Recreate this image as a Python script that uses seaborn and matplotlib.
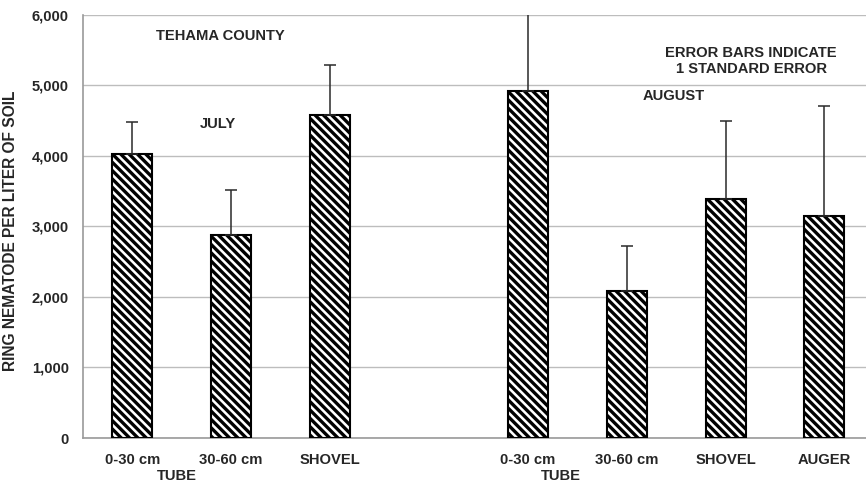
#!/usr/bin/env python3
"""
Ring nematode counts by sampling method - Tehama County
"""

import matplotlib
matplotlib.use('Agg')
import matplotlib.pyplot as plt
import seaborn as sns
import numpy as np
import pandas as pd

# data (one empty slot separates July and August)
slots = ['jul_0_30', 'jul_30_60', 'jul_shovel', 'gap',
         'aug_0_30', 'aug_30_60', 'aug_shovel', 'aug_auger']
tick_labels = ['0-30 cm', '30-60 cm', 'SHOVEL', '',
               '0-30 cm', '30-60 cm', 'SHOVEL', 'AUGER']
means = [4020, 2880, 4580, np.nan, 4920, 2090, 3380, 3150]
std_err = [460, 640, 710, np.nan, 1500, 630, 1110, 1560]

df = pd.DataFrame({'slot': slots, 'count': means, 'se': std_err})

sns.set_style('white')
plt.rcParams['font.family'] = ['Liberation Sans', 'DejaVu Sans']
plt.rcParams['font.weight'] = 'bold'
plt.rcParams['hatch.linewidth'] = 2.4
plt.rcParams['hatch.color'] = 'black'

FS = 10.6

fig = plt.figure(figsize=(8.66, 4.87), dpi=100)
ax = fig.add_axes([0.0955, 0.1006, 0.9136, 0.8694])

sns.barplot(data=df, x='slot', y='count', order=slots, errorbar=None,
            width=0.405, color='white', edgecolor='black', linewidth=1.5,
            hatch='\\\\\\\\', ax=ax, zorder=3)

# one-sided error bars (1 SE)
xpos = np.arange(len(slots))
ok = ~np.isnan(df['count'].values)
ax.errorbar(xpos[ok], df['count'].values[ok],
            yerr=[np.zeros(ok.sum()), df['se'].values[ok]],
            fmt='none', ecolor='#2a2a2a', elinewidth=1.1, capsize=4,
            capthick=1.1, zorder=4, clip_on=True)

ax.set_ylim(0, 6000)
ax.set_xlim(-0.5, 7.5)
ax.set_yticks(np.arange(0, 6001, 1000))
ax.set_yticklabels([f'{v:,}' for v in range(0, 6001, 1000)],
                   fontsize=FS, fontweight='bold')
ax.yaxis.grid(True, color='#bdbdbd', linewidth=1.0, zorder=0)
ax.set_axisbelow(True)

ax.set_xticks(xpos)
ax.set_xticklabels(tick_labels, fontsize=FS, fontweight='bold')
ax.tick_params(axis='x', length=0, pad=11)
ax.set_xticks(np.arange(0.5, 7, 1), minor=True)
ax.tick_params(axis='x', which='minor', length=4, color='#9a9a9a', width=1)
ax.tick_params(axis='y', length=4, color='#9a9a9a', width=1, pad=6)

for s in ['top', 'right']:
    ax.spines[s].set_visible(False)
for s in ['left', 'bottom']:
    ax.spines[s].set_color('#9a9a9a')
    ax.spines[s].set_linewidth(1.2)

ax.set_xlabel('')
ax.set_ylabel('RING NEMATODE PER LITER OF SOIL', fontsize=11.2, fontweight='bold')
ax.yaxis.set_label_coords(-0.082, 0.489)

# group labels under the tube bars
ax.text(0.45, -0.089, 'TUBE', transform=ax.get_xaxis_transform(),
        ha='center', va='center', fontsize=FS, fontweight='bold')
ax.text(4.33, -0.089, 'TUBE', transform=ax.get_xaxis_transform(),
        ha='center', va='center', fontsize=FS, fontweight='bold')

# annotations
ax.text(0.89, 5700, 'TEHAMA COUNTY', ha='center', va='center',
        fontsize=FS, fontweight='bold')
ax.text(0.87, 4450, 'JULY', ha='center', va='center',
        fontsize=FS, fontweight='bold')
ax.text(5.48, 4840, 'AUGUST', ha='center', va='center',
        fontsize=FS, fontweight='bold')
ax.text(6.26, 5345, 'ERROR BARS INDICATE\n1 STANDARD ERROR', ha='center',
        va='center', fontsize=FS, fontweight='bold', linespacing=1.15)

plt.savefig('out.png', dpi=100)
